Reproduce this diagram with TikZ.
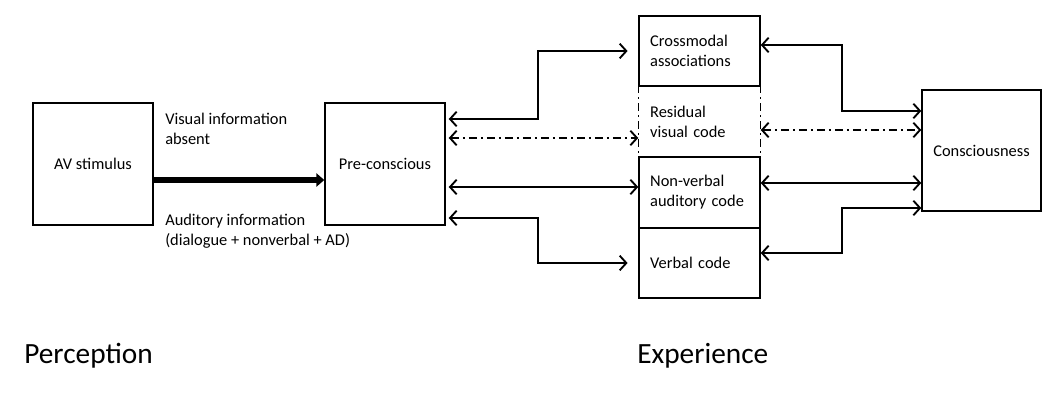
\documentclass[tikz,border=0pt]{standalone}
\usepackage{fontspec}
\setmainfont{Carlito}
\usetikzlibrary{arrows.meta,calc}

\tikzset{
  box/.style={draw, line width=1.1pt, inner sep=0pt, font=\fontsize{12.3pt}{15pt}\selectfont},
  codebox/.style={box, minimum width=90.75pt, text width=74pt, align=left},
  dual/.style={line width=1.4pt, {Straight Barb[length=5pt,width=11pt]}-{Straight Barb[length=5pt,width=11pt]}},
  dashdot/.style={dash pattern=on 6pt off 3pt on 1.5pt off 3pt},
  note/.style={font=\fontsize{12.3pt}{15pt}\selectfont, align=left, inner sep=0pt},
  stage/.style={font=\fontsize{22pt}{26pt}\selectfont, inner sep=0pt},
}

\begin{document}
\begin{tikzpicture}[x=0.75pt, y=-0.75pt]
  \useasboundingbox (0,0) rectangle (1042,407);

  % boxes
  \node[box, minimum width=90pt, minimum height=91.5pt] (stim) at (93,164) {AV stimulus};
  \node[box, minimum width=90pt, minimum height=91.5pt] (precon) at (385,164) {Pre-conscious};
  \node[codebox, minimum height=52.5pt] (cross) at (699.5,51) {Crossmodal\\associations};
  \node[codebox, draw=none, minimum height=53.25pt] (resid) at (699.5,121.5) {Residual\\visual code};
  \node[codebox, minimum height=53.25pt] (nonverb) at (699.5,192.5) {Non-verbal\\auditory code};
  \node[codebox, minimum height=52.5pt] (verbal) at (699.5,263) {Verbal code};
  \node[box, minimum width=89.25pt, minimum height=90.75pt] (consc) at (981.5,150.5) {Consciousness};
  \draw[line width=1.1pt, dashdot] (resid.north west) -- (resid.south west)
    (resid.north east) -- (resid.south east);

  \node[note, anchor=west] (vis) at (165,129) {Visual information\\absent};
  \node[note, anchor=west] (aud) at (165,231) {Auditory information\\(dialogue + nonverbal + AD)};
  \node[stage, anchor=base west] (perc) at (24,363) {Perception};
  \node[stage, anchor=base west] (exper) at (637,363) {Experience};

  \draw[line width=3.8pt, -{Triangle[length=6pt,width=10pt]}] (stim.east |- 0,180) -- (precon.west |- 0,180);

  % pre-conscious to the codes
  \coordinate (bendL) at (538,0);
  \coordinate (p1) at ($(precon.east)+(3,-45)$);
  \coordinate (p2) at ($(precon.east)+(3,-26)$);
  \coordinate (p3) at ($(precon.east)+(3,23)$);
  \coordinate (p4) at ($(precon.east)+(3,54)$);
  \draw[dual, shorten >=8pt] (p1) -| (bendL |- cross.west) -- (cross.west);
  \draw[dual, dashdot] (p2) -- (p2 -| resid.west);
  \draw[dual] (p3) -- (p3 -| nonverb.west);
  \draw[dual, shorten >=8pt] (p4) -| (bendL |- verbal.west) -- (verbal.west);

  % codes to consciousness
  \coordinate (bendR) at (842,0);
  \coordinate (c1) at ($(cross.east)+(0,-6)$);
  \coordinate (c2) at ($(consc.west)+(0,-20.5)$);
  \coordinate (c3) at ($(consc.west)+(0,32.5)$);
  \coordinate (v1) at ($(verbal.east)+(0,-10)$);
  \coordinate (k1) at ($(consc.west)+(0,-39.5)$);
  \coordinate (k4) at ($(consc.west)+(0,57.5)$);
  \draw[dual] (c1) -| (bendR |- k1) -- (k1);
  \draw[dual, dashdot] (c2 -| resid.east) -- (c2);
  \draw[dual] (c3 -| nonverb.east) -- (c3);
  \draw[dual] (v1) -| (bendR |- k4) -- (k4);
\end{tikzpicture}
\end{document}
